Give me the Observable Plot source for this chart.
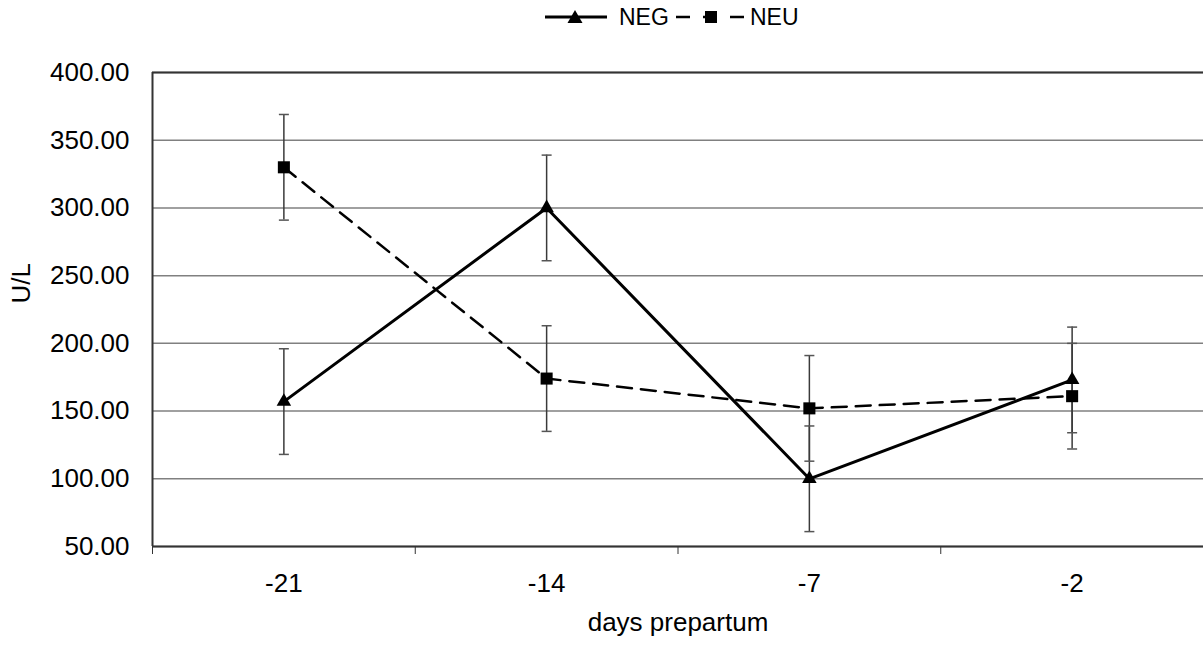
<!DOCTYPE html>
<html>
<head>
<meta charset="utf-8">
<script src="https://cdn.jsdelivr.net/npm/d3@7"></script>
<script src="https://cdn.jsdelivr.net/npm/@observablehq/plot@0.6"></script>
<style>
  body { margin: 0; background: white; font-family: "Liberation Sans", Arial, sans-serif; }
  #legend { display: block; }
</style>
</head>
<body>
<svg id="legend" width="1203" height="40" xmlns="http://www.w3.org/2000/svg" font-family="Liberation Sans, Arial, sans-serif">
  <line x1="545" x2="607" y1="17" y2="17" stroke="black" stroke-width="3"/>
  <path d="M575,10 L567.5,23 L582.5,23 Z" fill="black"/>
  <text x="619" y="25" font-size="23" fill="black">NEG</text>
  <line x1="676" x2="744" y1="17" y2="17" stroke="black" stroke-width="2.5" stroke-dasharray="14,13"/>
  <rect x="705" y="11" width="12" height="12" fill="black"/>
  <text x="750" y="25" font-size="23" fill="black">NEU</text>
</svg>
<div id="chart"></div>
<script>
const days = ["-21", "-14", "-7", "-2"];
const negMean = [157, 300, 100, 173];
const negSE = [39, 39, 39, 39];
const neuMean = [330, 174, 152, 161];
const neuSE = [39, 39, 39, 39];
const yTicks = [50, 100, 150, 200, 250, 300, 350, 400];
const xBounds = [-0.5, 0.5, 1.5, 2.5, 3.5];

const build = (means, se, name) => days.map((d, i) => ({
  i, day: d, series: name, mean: means[i], lo: means[i] - se[i], hi: means[i] + se[i]
}));
const neg = build(negMean, negSE, "NEG");
const neu = build(neuMean, neuSE, "NEU");
const all = neg.concat(neu);

const capSymbol = { draw(ctx) { ctx.moveTo(-5, 0); ctx.lineTo(5, 0); } };

const chart = Plot.plot({
  width: 1203,
  height: 607,
  marginTop: 32,
  marginBottom: 101,
  marginLeft: 152,
  marginRight: 0,
  style: { fontFamily: "Liberation Sans, Arial, sans-serif", fontSize: "26px", color: "black", background: "white", overflow: "visible" },
  x: { type: "linear", domain: [-0.5, 3.5] },
  y: { domain: [50, 400] },
  marks: [
    Plot.gridY(yTicks, { stroke: "#808080", strokeOpacity: 1, strokeWidth: 1.5 }),
    Plot.ruleY([400], { stroke: "#333", strokeWidth: 2 }),
    Plot.ruleY([50], { stroke: "#333", strokeWidth: 2 }),
    Plot.ruleX([-0.5], { stroke: "#333", strokeWidth: 2 }),
    Plot.axisY(yTicks, { tickFormat: d3.format(".2f"), tickSize: 0, tickPadding: 23, fontSize: 26, label: null }),
    Plot.axisX(xBounds, { tickSize: 8, tickFormat: () => "", stroke: "#333", label: null }),
    Plot.axisX([0, 1, 2, 3], { tickSize: 0, tickPadding: 27, tickFormat: i => days[i], fontSize: 26, label: null }),
    Plot.ruleX(all, { x: "i", y1: "lo", y2: "hi", stroke: "#3a3a3a", strokeWidth: 1.5 }),
    Plot.dot(all, { x: "i", y: "lo", symbol: capSymbol, stroke: "#555", strokeWidth: 1.5, fill: "none", r: 5 }),
    Plot.dot(all, { x: "i", y: "hi", symbol: capSymbol, stroke: "#555", strokeWidth: 1.5, fill: "none", r: 5 }),
    Plot.line(neu, { x: "i", y: "mean", stroke: "black", strokeWidth: 2.5, strokeDasharray: "15,9" }),
    Plot.line(neg, { x: "i", y: "mean", stroke: "black", strokeWidth: 3 }),
    Plot.dot(neu, { x: "i", y: "mean", symbol: "square", r: 6.8, fill: "black" }),
    Plot.dot(neg, { x: "i", y: "mean", symbol: "triangle", r: 5.4, fill: "black" }),
    Plot.text(["U/L"], { frameAnchor: "left", dx: -131, dy: -6, rotate: -90, fontSize: 26, fill: "black" }),
    Plot.text(["days prepartum"], { frameAnchor: "bottom", dy: 84, fontSize: 26, fill: "black" })
  ]
});
document.getElementById("chart").appendChild(chart);
</script>
</body>
</html>
